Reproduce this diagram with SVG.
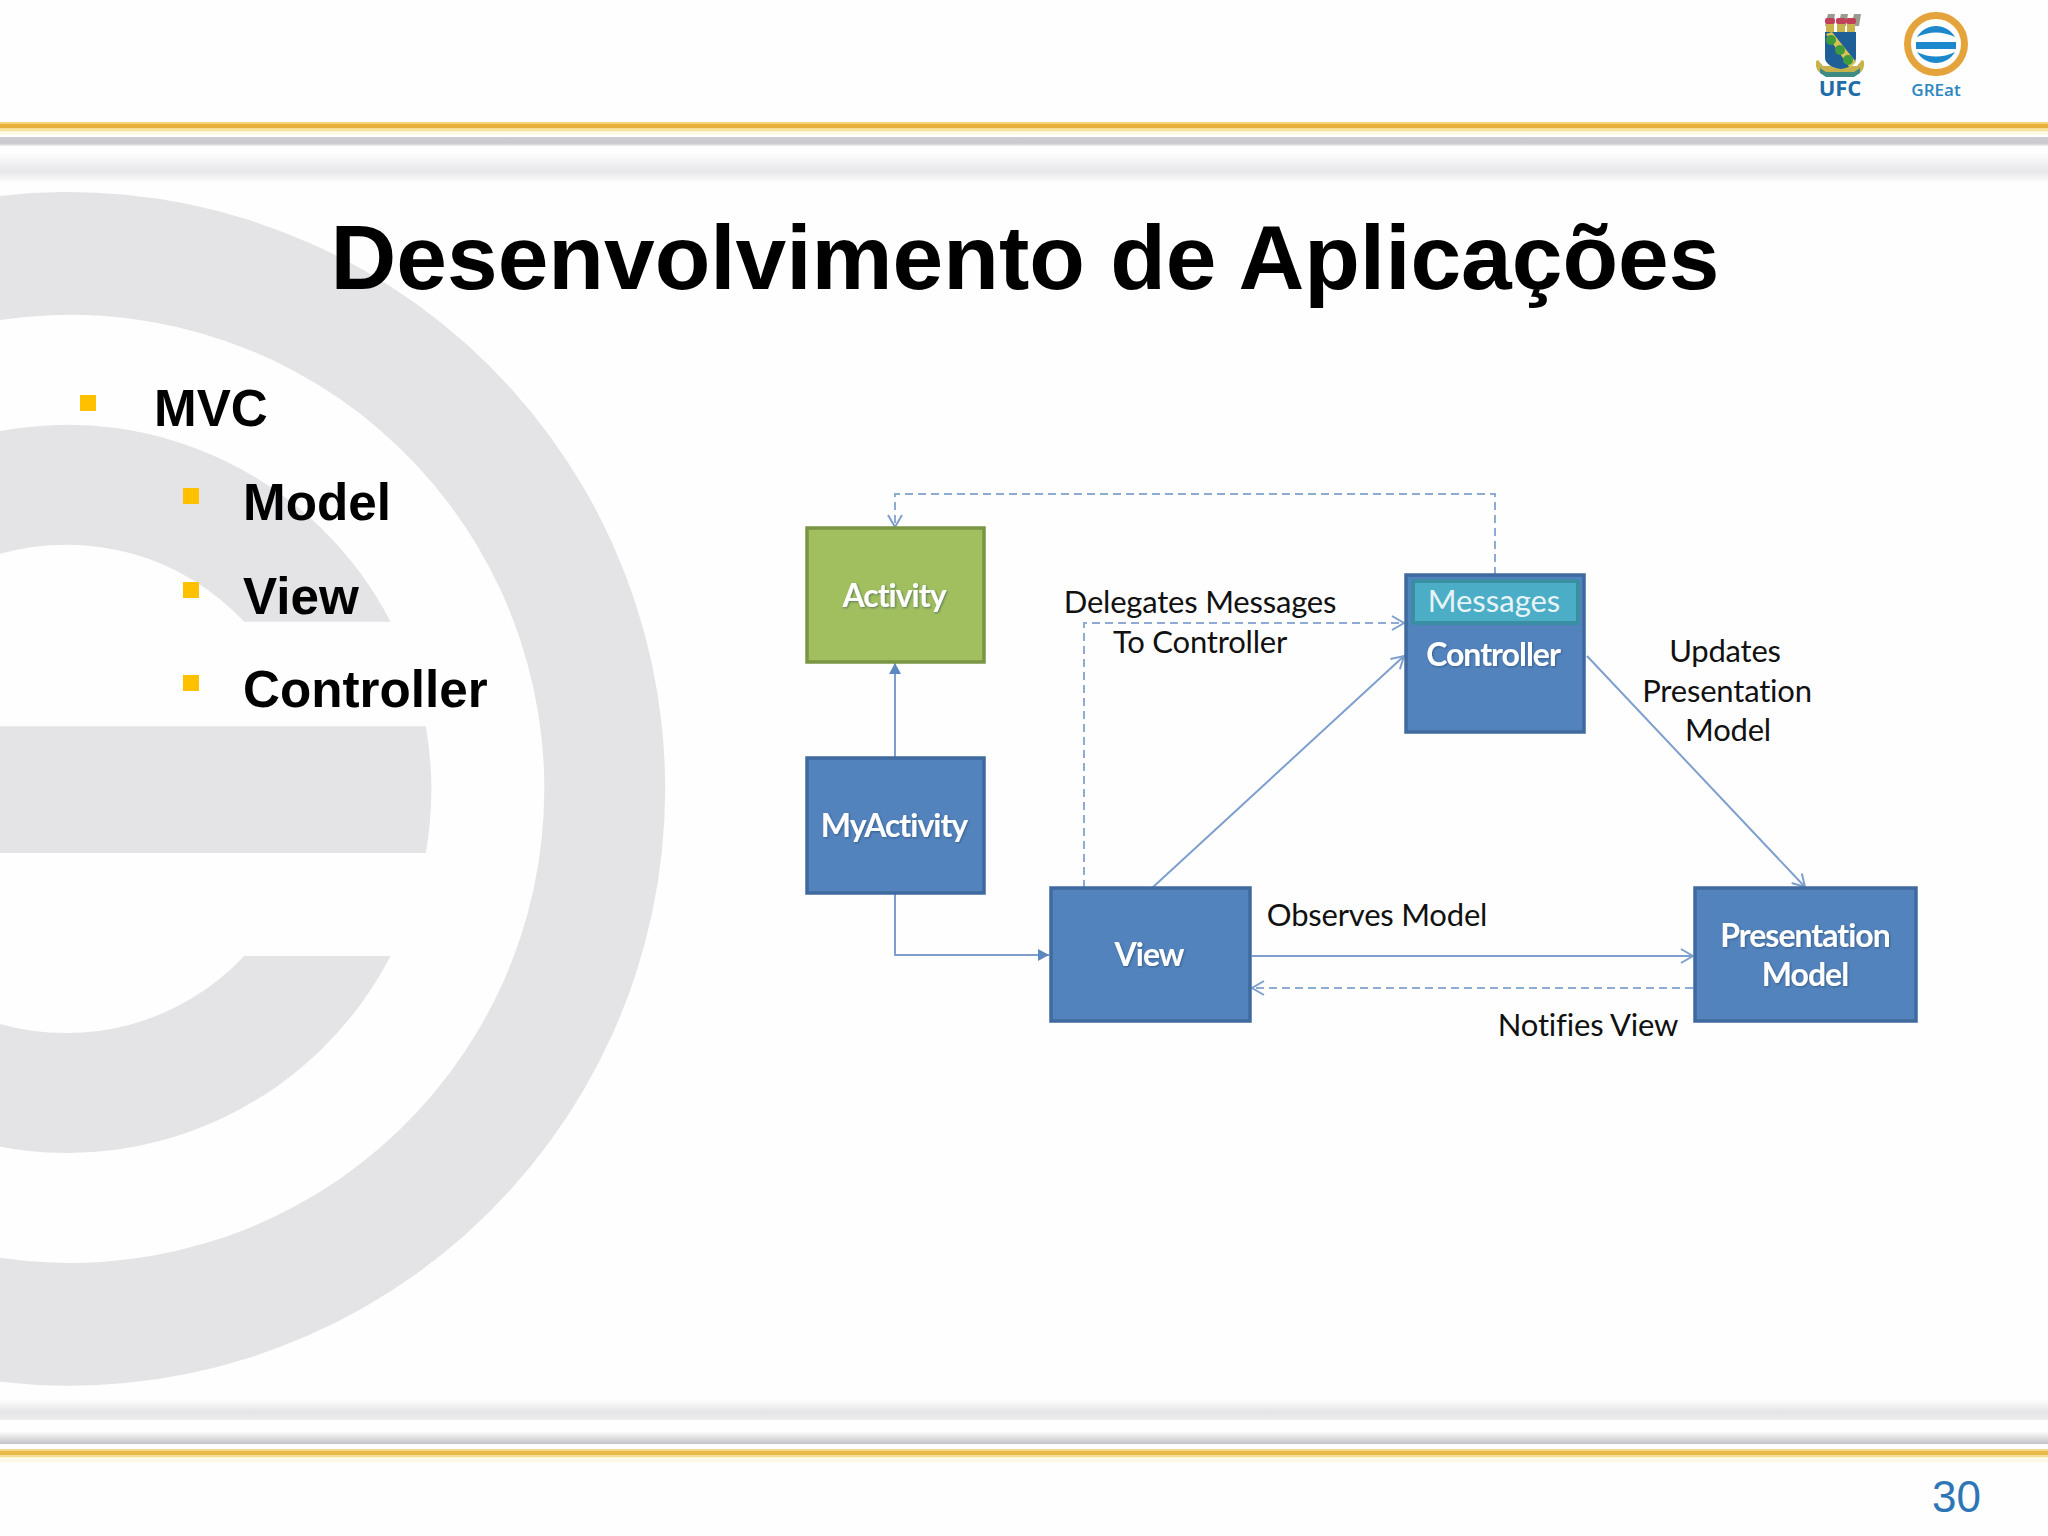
<svg xmlns="http://www.w3.org/2000/svg" width="2048" height="1536" viewBox="0 0 2048 1536">
<style>
.box{fill:#5383BD;stroke:#3F6A9F;stroke-width:3.5}
.green{fill:#A1BF5F;stroke:#7A9543;stroke-width:3.5}
.msg{fill:#4CADC6;stroke:#3A8EA3;stroke-width:4}
.nt{font-family:"Lato","Liberation Sans",sans-serif;font-weight:700;font-size:32px;fill:#fff;text-anchor:middle;letter-spacing:-1px;filter:url(#sh)}
.lab{font-family:"Lato","Liberation Sans",sans-serif;font-size:31px;fill:#111;text-anchor:middle;letter-spacing:-.2px}
.bul{font-family:"Liberation Sans",Arial,sans-serif;font-weight:700;font-size:51.2px;fill:#000}
.b{fill:#FFC000}
.c{fill:none;stroke:#7E9FCE;stroke-width:2}
.d{fill:none;stroke:#8FABD3;stroke-width:2;stroke-dasharray:8 5}
</style>
<defs>
<filter id="sh" x="-10%" y="-20%" width="120%" height="140%"><feDropShadow dx="1" dy="1" stdDeviation="1" flood-color="#24405f" flood-opacity=".55"/></filter>
<marker id="open" markerUnits="userSpaceOnUse" markerWidth="18" markerHeight="18" refX="14" refY="9" orient="auto"><path d="M2 2L14 9L2 16" fill="none" stroke="#7E9FCE" stroke-width="2"/></marker>
<marker id="fill" markerUnits="userSpaceOnUse" markerWidth="14" markerHeight="14" refX="11" refY="6" orient="auto"><path d="M0 0L11 6L0 12Z" fill="#5B88C0"/></marker>
<linearGradient id="bandT" x1="0" y1="0" x2="0" y2="1"><stop offset="0" stop-color="#fdfdfd"/><stop offset=".65" stop-color="#e7e7ea"/><stop offset="1" stop-color="#fdfdfd"/></linearGradient>
<linearGradient id="bandB" x1="0" y1="0" x2="0" y2="1"><stop offset="0" stop-color="#fdfdfd"/><stop offset=".6" stop-color="#e4e4e7"/><stop offset="1" stop-color="#eeeef0"/></linearGradient>
<linearGradient id="lineT" x1="0" y1="0" x2="0" y2="1"><stop offset="0" stop-color="#cfcfd3"/><stop offset=".7" stop-color="#c9c9ce"/><stop offset="1" stop-color="#f0f0f2"/></linearGradient>
<linearGradient id="lineB" x1="0" y1="0" x2="0" y2="1"><stop offset="0" stop-color="#fafafa"/><stop offset="1" stop-color="#c2c4c7"/></linearGradient>
</defs>
<rect width="2048" height="1536" fill="#fefefe"/>
<g id="watermark" fill="#e4e3e6" transform="scale(1.3061)">
<path d="M0 150A457 457 0 1 1 0 1058V963A363 363 0 1 0 0 245Z"/>
<path d="M299 476A279 279 0 0 0 0 330V424A187 187 0 0 1 187 476Z"/>
<path d="M0 556H326A279 279 0 0 1 326 653H0Z"/>
<path d="M299 732A279 279 0 0 1 0 878V784A187 187 0 0 0 187 732Z"/>
</g>
<g id="header-bands">
<rect y="122" width="2048" height="2.5" fill="#F5D47A"/>
<rect y="124" width="2048" height="4.5" fill="#E8B03A"/>
<rect y="128.500" width="2048" height="3" fill="#F8E49C"/>
<rect y="131.500" width="2048" height="3" fill="#FFF9E8"/>
<rect y="137" width="2048" height="9" fill="url(#lineT)"/>
<rect y="153" width="2048" height="29" fill="url(#bandT)"/>
<rect y="1400" width="2048" height="20" fill="url(#bandB)"/>
<rect y="1432" width="2048" height="12" fill="url(#lineB)"/>
<rect y="1449" width="2048" height="2" fill="#F5D98A"/>
<rect y="1451" width="2048" height="4.500" fill="#E6B94A"/>
<rect y="1455.500" width="2048" height="2" fill="#F5DD90"/>
<rect y="1457.500" width="2048" height="5" fill="#FEF9E6"/>
</g>
<g id="logo-ufc">
<path d="M1825 26l3-12 7 0-2 12ZM1838 26l3-12 7 0-2 12ZM1851 26l3-12 7 0-2 12Z" fill="#9a9a90"/>
<rect x="1825" y="18" width="10" height="6" rx="2" fill="#C0405A"/><rect x="1836" y="18" width="10" height="6" rx="2" fill="#C0405A"/><rect x="1846" y="18" width="10" height="6" rx="2" fill="#C0405A"/>
<rect x="1826" y="24" width="8" height="8" fill="#C7B24C"/><rect x="1837" y="24" width="8" height="8" fill="#C7B24C"/><rect x="1847" y="24" width="8" height="8" fill="#C7B24C"/>
<path d="M1818 60c-3 0-3 8 1 12l7 4h28l7-4c4-4 4-12 1-12l-5 6h-34Z" fill="#C7B24C"/>
<path d="M1825 32h31v26c0 6-8 10-15 11-8-1-16-5-16-11Z" fill="#1F5F97"/>
<path d="M1826 34l6-2 24 30-6 6Z" fill="#D7C352"/>
<circle cx="1831" cy="40" r="5" fill="#3F9B3C"/><circle cx="1840" cy="50" r="5" fill="#3F9B3C"/><circle cx="1848" cy="60" r="5" fill="#3F9B3C"/>
<path d="M1820 68l6 4h28l6-4 0 5-6 4h-28l-6-4Z" fill="#3E8B84"/>
<text x="1840" y="96" font-family="'Open Sans','Liberation Sans',sans-serif" font-weight="700" font-size="22" fill="#1C6DA8" text-anchor="middle">UFC</text>
</g>
<g id="logo-great">
<circle cx="1936" cy="44" r="28.500" fill="#fff" stroke="#E5A33B" stroke-width="7"/>
<rect x="1916" y="42" width="40" height="7" fill="#1E88CC"/>
<path d="M1917 37A22 22 0 0 1 1955 37Q1936 28 1917 37Z" fill="#1E88CC"/>
<path d="M1917 52A22 22 0 0 0 1955 52Q1936 61 1917 52Z" fill="#1E88CC"/>
<text x="1936" y="96" font-family="'Open Sans','Liberation Sans',sans-serif" font-weight="600" font-size="17" fill="#2A86C0" text-anchor="middle">GREat</text>
</g>
<text id="title" x="1025" y="289" font-family="'Liberation Sans',Arial,sans-serif" font-weight="700" font-size="91.1" fill="#000" text-anchor="middle">Desenvolvimento de Aplicações</text>
<g id="bullets">
<rect class="b" x="80" y="395" width="16" height="16"/><text class="bul" x="154" y="426">MVC</text>
<rect class="b" x="183" y="488" width="16" height="16"/><text class="bul" x="243" y="520">Model</text>
<rect class="b" x="183" y="582" width="16" height="16"/><text class="bul" x="243" y="614">View</text>
<rect class="b" x="183" y="675" width="16" height="16"/><text class="bul" x="243" y="707">Controller</text>
</g>
<g id="connectors">
<path class="d" d="M1495 575V494H895V527" marker-end="url(#open)"/>
<path class="d" d="M1084 888V623H1404" marker-end="url(#open)"/>
<path class="c" d="M1152 888L1404 656" marker-end="url(#open)"/>
<path class="c" d="M1587 656L1805 887" marker-end="url(#open)"/>
<path class="c" d="M1252 956H1693" marker-end="url(#open)"/>
<path class="d" d="M1693 988H1252" marker-end="url(#open)"/>
<path class="c" d="M895 757V663" marker-end="url(#fill)"/>
<path class="c" d="M895 893V955H1049" marker-end="url(#fill)"/>
</g>
<g id="node-activity"><rect class="green" x="807" y="528" width="177" height="134"/><text class="nt" x="894" y="607">Activity</text></g>
<g id="node-myactivity"><rect class="box" x="807" y="758" width="177" height="135"/><text class="nt" x="894" y="837">MyActivity</text></g>
<g id="node-view"><rect class="box" x="1051" y="888" width="199" height="133"/><text class="nt" x="1149" y="966">View</text></g>
<g id="node-controller"><rect class="box" x="1406" y="575" width="178" height="157"/><rect class="msg" x="1413" y="581" width="165" height="42"/><text x="1494" y="612" font-family="Lato,'Liberation Sans',sans-serif" font-size="31" fill="#E6F4F8" text-anchor="middle">Messages</text><text class="nt" x="1493" y="666">Controller</text></g>
<g id="node-presentation"><rect class="box" x="1695" y="888" width="221" height="133"/><text class="nt" x="1805" y="947">Presentation</text><text class="nt" x="1805" y="986">Model</text></g>
<g id="labels">
<text class="lab" x="1200" y="613">Delegates Messages</text>
<text class="lab" x="1200" y="653">To Controller</text>
<text class="lab" x="1377" y="926">Observes Model</text>
<text class="lab" x="1588" y="1036">Notifies View</text>
<text class="lab" x="1725" y="662">Updates</text>
<text class="lab" x="1727" y="702">Presentation</text>
<text class="lab" x="1728" y="741">Model</text>
</g>
<text id="page" x="1981" y="1512" font-family="'Liberation Sans',Arial,sans-serif" font-size="44" fill="#2E75B6" text-anchor="end">30</text>
</svg>
